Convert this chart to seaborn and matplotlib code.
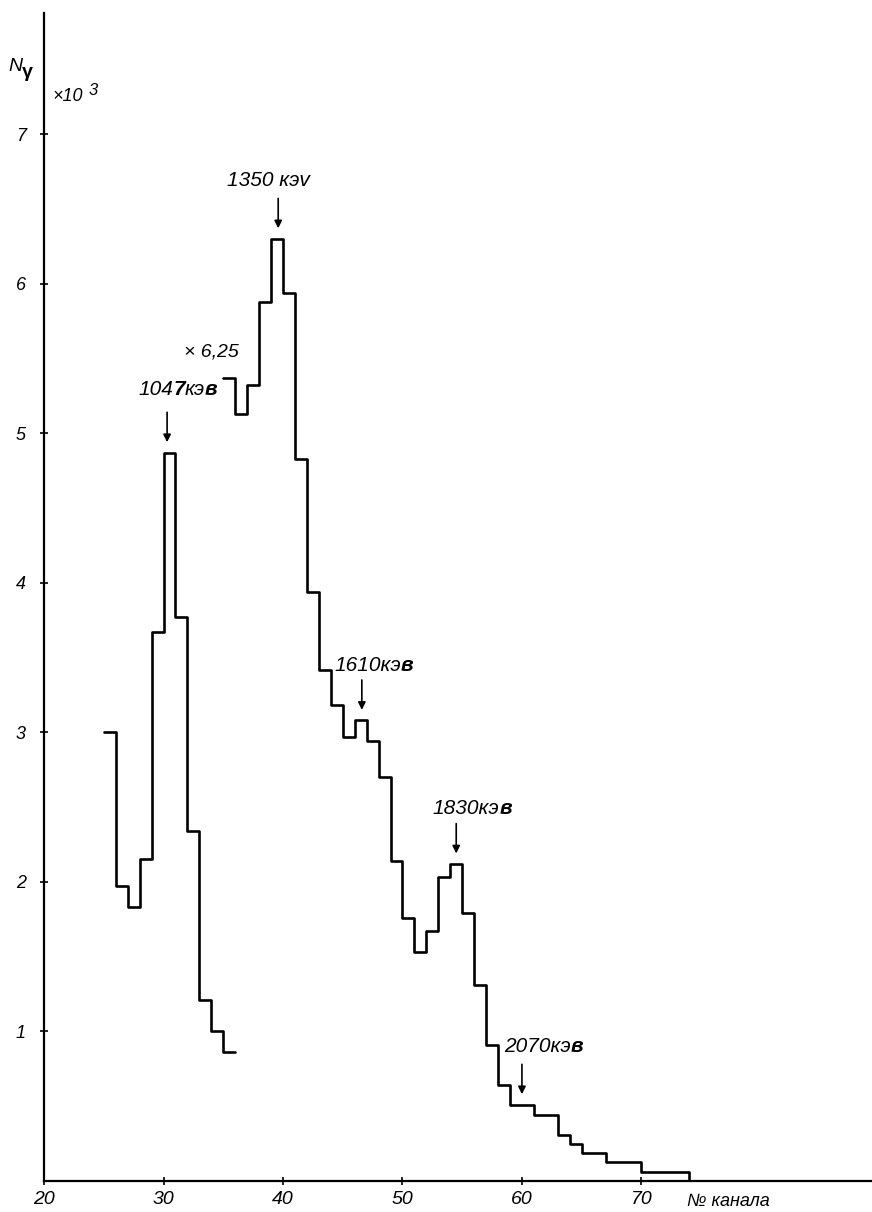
import matplotlib
matplotlib.use("Agg")
import matplotlib.pyplot as plt
import pandas as pd
import seaborn as sns

sns.set_style("ticks")
plt.rcParams["font.family"] = ["Liberation Sans", "DejaVu Sans"]
plt.rcParams["text.color"] = "black"
plt.rcParams["xtick.color"] = "black"
plt.rcParams["ytick.color"] = "black"
plt.rcParams["axes.edgecolor"] = "black"

# gamma spectrum, counts in units of 10^3 per channel
low_channels = list(range(25, 37))
low_counts = [3.00, 1.97, 1.83, 2.15, 3.67, 4.87, 3.77, 2.34, 1.21, 1.00, 0.86, 0.86]

# upper part of the spectrum (drawn x 6.25)
high_channels = list(range(35, 75))
high_counts = [5.37, 5.13, 5.32, 5.88, 6.30, 5.94, 4.83, 3.94, 3.42, 3.18,
               2.97, 3.08, 2.94, 2.70, 2.14, 1.76, 1.53, 1.67, 2.03, 2.12,
               1.79, 1.31, 0.91, 0.64, 0.51, 0.51, 0.44, 0.44, 0.31, 0.25,
               0.19, 0.19, 0.13, 0.13, 0.13, 0.06, 0.06, 0.06, 0.06, 0.0]

# marked lines
peak_energies = ["1047", "1350", "1610", "1830", "2070"]
peak_channels = [30.3, 39.6, 46.6, 54.5, 60.0]
peak_on_low = [True, False, False, False, False]

x_ticks = [20, 30, 40, 50, 60, 70]
y_ticks = [1, 2, 3, 4, 5, 6, 7]

# label pieces (text, weight) and text anchor offsets from arrow tail
label_pieces = {
    "1047": [("104", "normal"), ("7", "bold"), ("кэ", "normal"), ("в", "bold")],
    "1350": [("1350 кэv", "normal")],
    "1610": [("1610кэ", "normal"), ("в", "bold")],
    "1830": [("1830кэ", "normal"), ("в", "bold")],
    "2070": [("2070кэ", "normal"), ("в", "bold")],
}
label_offsets = {"1047": (-2.4, 0.15), "1350": (-4.3, 0.12), "1610": (-2.3, 0.10),
                 "1830": (-1.95, 0.10), "2070": (-1.5, 0.12)}


def chain_text(ax, x, y, pieces, size):
    t = ax.text(x, y, pieces[0][0], ha="left", va="center", style="italic",
                fontweight=pieces[0][1], size=size)
    for s, w in pieces[1:]:
        t = ax.annotate(s, xy=(1, 0), xycoords=t, ha="left", va="bottom",
                        style="italic", fontweight=w, size=size)
    return t


fig = plt.figure(figsize=(8.72, 12.12), dpi=100)
ax = fig.add_axes([0.0505, 0.0256, 0.9495, 0.9637])

low_df = pd.DataFrame({"channel": low_channels, "counts": low_counts})
high_df = pd.DataFrame({"channel": high_channels, "counts": high_counts})
for df in (low_df, high_df):
    sns.lineplot(data=df, x="channel", y="counts", drawstyle="steps-post",
                 estimator=None, sort=False, color="black", lw=1.9, ax=ax)

# arrows and energy labels
for energy, ch, on_low in zip(peak_energies, peak_channels, peak_on_low):
    chans, counts = (low_channels, low_counts) if on_low else (high_channels, high_counts)
    top = counts[chans.index(int(ch))]
    tip = top + 0.07
    tail = tip + 0.2
    ax.annotate("", xy=(ch, tip), xytext=(ch, tail),
                arrowprops=dict(arrowstyle="-|>", color="black", lw=1.2,
                                mutation_scale=11, shrinkA=0, shrinkB=0))
    dx, dy = label_offsets[energy]
    chain_text(ax, ch + dx, tail + dy, label_pieces[energy], 15)

ax.text(31.7, 5.54, "× 6,25", ha="left", va="center", style="italic", size=14)

# axis labels
n = ax.text(17.0, 7.45, "N", ha="left", va="center", style="italic", size=14,
            clip_on=False)
ax.annotate("γ", xy=(1, 0), xycoords=n, xytext=(0, -4), textcoords="offset points",
            ha="left", va="bottom", fontweight="bold", size=14, annotation_clip=False)
m = ax.text(20.7, 7.25, "×10", ha="left", va="center", style="italic", size=13)
ax.annotate("3", xy=(1, 0.45), xycoords=m, xytext=(4, 0), textcoords="offset points",
            ha="left", va="bottom", style="italic", size=12)
ax.annotate("№ канала", xy=(73.8, 0), xytext=(0, -15), textcoords="offset points",
            ha="left", va="center", style="italic", size=13, annotation_clip=False)

ax.set_xlim(20, 89.3)
ax.set_ylim(0, 7.81)
ax.set_xticks(x_ticks)
ax.set_xticklabels([str(v) for v in x_ticks], style="italic", size=14)
ax.set_yticks(y_ticks)
ax.set_yticklabels([str(v) for v in y_ticks], style="italic", size=13)
ax.tick_params(axis="both", direction="inout", length=6, width=1.2, pad=4)
ax.tick_params(axis="y", pad=10)
ax.set_xlabel("")
ax.set_ylabel("")
sns.despine(ax=ax)
for side in ("left", "bottom"):
    ax.spines[side].set_linewidth(1.6)

fig.savefig("out.png", dpi=100)
